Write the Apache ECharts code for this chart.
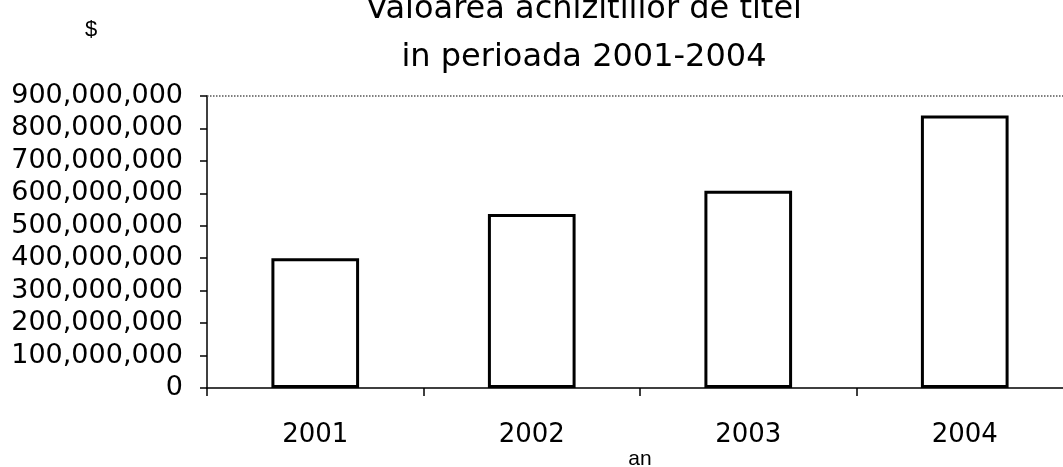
<!DOCTYPE html>
<html>
<head>
<meta charset="utf-8">
<script src="https://cdn.jsdelivr.net/npm/echarts@6/dist/echarts.min.js"></script>
<style>
* { margin: 0; padding: 0; }
html, body { background: #fff; }
#chart { width: 1063px; height: 467px; }
</style>
</head>
<body>
<div id="chart"></div>
<script>
// data
var years = ['2001', '2002', '2003', '2004']
var values = [400000000, 536000000, 608000000, 840000000]
var yMax = 900000000
var yStep = 100000000

var fmt = function (v) {
  return String(v).replace(/\B(?=(\d{3})+(?!\d))/g, ',')
}

var option = {
  animation: false,
  backgroundColor: '#fff',
  title: {
    text: 'Valoarea achizitiilor de titel\nin perioada 2001-2004',
    left: 579,
    top: -19,
    textAlign: 'center',
    textStyle: {
      fontFamily: 'DejaVu Sans',
      fontSize: 32,
      fontWeight: 'normal',
      lineHeight: 48,
      color: '#000'
    }
  },
  graphic: [
    {
      type: 'text',
      left: 85,
      top: 19,
      style: { text: '$', fontFamily: 'Liberation Sans', fontSize: 22, fill: '#000' }
    }
  ],
  grid: {
    left: 207,
    width: 866,
    top: 96,
    height: 292,
    outerBoundsMode: 'none',
    containLabel: false
  },
  xAxis: {
    type: 'category',
    data: years,
    name: 'an',
    nameLocation: 'middle',
    nameGap: 61,
    nameMoveOverlap: false,
    nameTextStyle: { fontFamily: 'Liberation Sans', fontSize: 21, color: '#000' },
    axisLine: { lineStyle: { color: '#000', width: 1.5 } },
    axisTick: { show: true, length: 8, lineStyle: { color: '#000', width: 1.5 } },
    axisLabel: {
      margin: 34,
      fontFamily: 'DejaVu Sans',
      fontSize: 26,
      color: '#000'
    }
  },
  yAxis: {
    type: 'value',
    min: 0,
    max: yMax,
    interval: yStep,
    axisLine: { show: true, lineStyle: { color: '#000', width: 1.5 } },
    axisTick: { show: true, length: 7, lineStyle: { color: '#000', width: 1.5 } },
    splitLine: { show: false },
    axisLabel: {
      margin: 24,
      fontFamily: 'DejaVu Sans',
      fontSize: 27,
      color: '#000',
      formatter: fmt
    }
  },
  series: [
    {
      type: 'bar',
      data: values,
      barWidth: '40.5%',
      itemStyle: { color: '#fff', borderColor: '#000', borderWidth: 3 },
      markLine: {
        silent: true,
        symbol: 'none',
        label: { show: false },
        lineStyle: { type: 'dotted', color: '#555', width: 1.5 },
        data: [{ yAxis: yMax }]
      }
    }
  ]
}

var chart = echarts.init(document.getElementById('chart'))
chart.setOption(option)
</script>
</body>
</html>
